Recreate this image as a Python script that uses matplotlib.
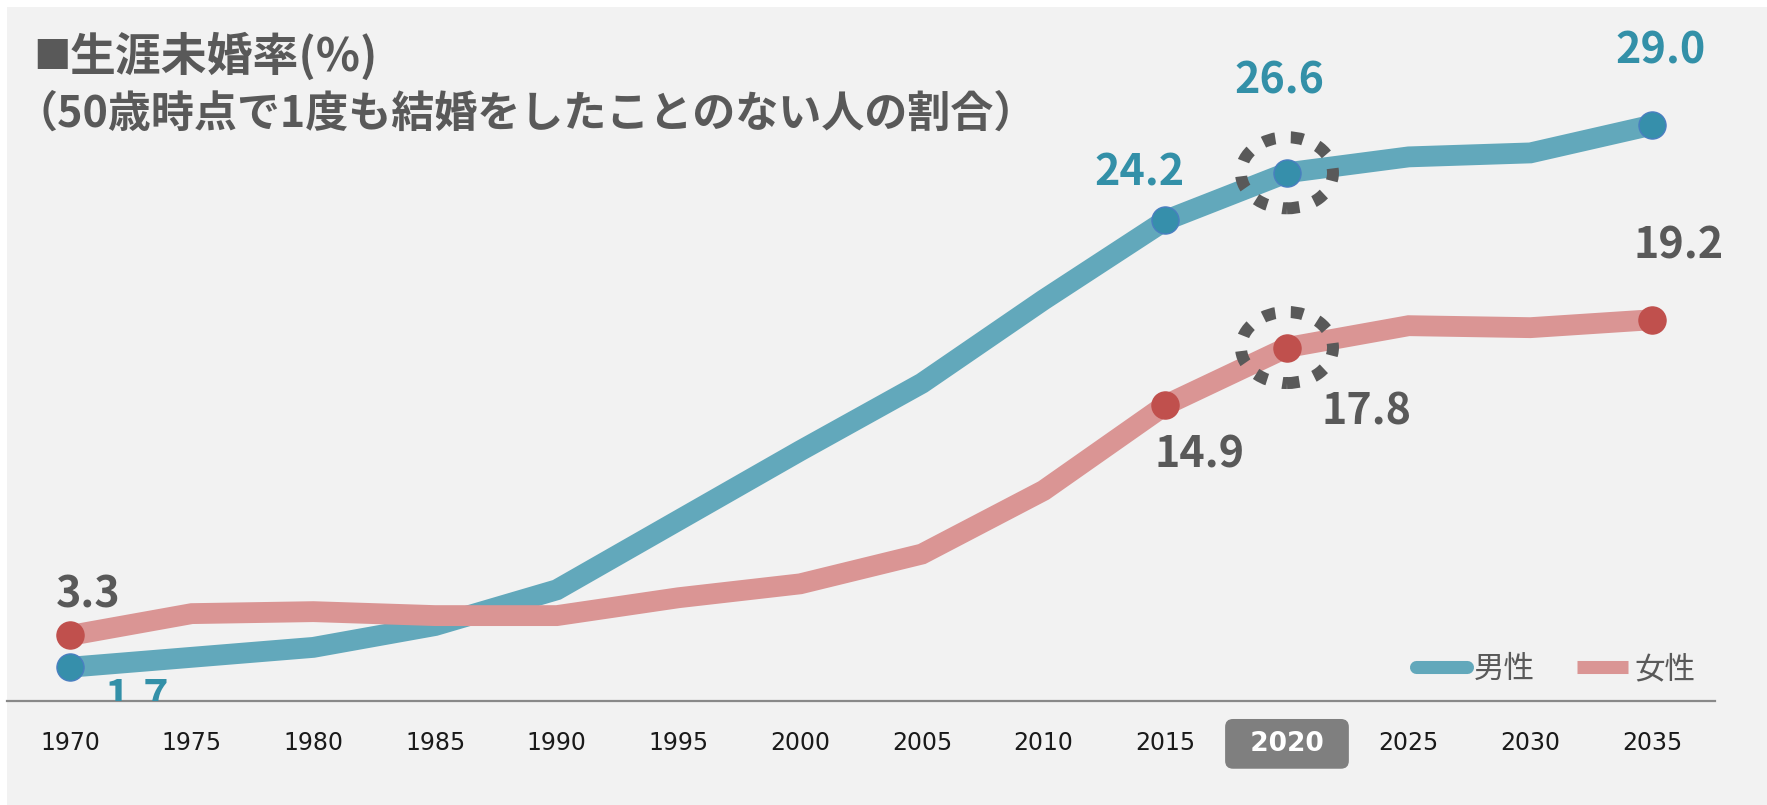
import matplotlib
matplotlib.use("Agg")
import matplotlib.pyplot as plt
from matplotlib.lines import Line2D
from matplotlib.patches import Ellipse, Rectangle

plt.rcParams['font.family'] = ['Noto Sans CJK JP', 'DejaVu Sans']

# data (%)
years = [1970, 1975, 1980, 1985, 1990, 1995, 2000, 2005, 2010, 2015, 2020, 2025, 2030, 2035]
male = [1.7, 2.2, 2.7, 3.8, 5.6, 9.1, 12.6, 16.0, 20.2, 24.2, 26.6, 27.4, 27.6, 29.0]
female = [3.3, 4.4, 4.5, 4.3, 4.3, 5.2, 5.9, 7.4, 10.6, 14.9, 17.8, 18.9, 18.8, 19.2]
marked_years = [1970, 2015, 2020, 2035]
highlight_year = 2020

title_mark = "■"
title1 = "生涯未婚率(%)"
title2 = "（50歳時点で1度も結婚をしたことのない人の割合）"
series_names = ["男性", "女性"]

male_line = '#62a8bb'
male_dot = '#368fab'
female_line = '#da9594'
female_dot = '#c0504d'
teal_text = '#3390a8'
gray_text = '#595959'

W, H = 1767, 805
fig = plt.figure(figsize=(W / 100, H / 100), dpi=100, facecolor='white')
fig.add_artist(Rectangle((7 / W, 0), 1, 798 / H, transform=fig.transFigure,
                         facecolor='#f2f2f2', edgecolor='none', zorder=-10))

ax = fig.add_axes([7 / W, (H - 701) / H, (1715 - 7) / W, 701 / H])
ax.set_facecolor('none')
x = list(range(len(years)))
ax.set_xlim(-0.5177, 13.517)
ax.set_ylim(0, 35.3)

ax.plot(x, male, color=male_line, lw=15, solid_joinstyle='miter', solid_capstyle='butt', zorder=2)
ax.plot(x, female, color=female_line, lw=15, solid_joinstyle='miter', solid_capstyle='butt', zorder=3)

mi = [years.index(y) for y in marked_years]
ax.plot(mi, [male[i] for i in mi], 'o', ms=19.5, color=male_dot, mec='#4a7fc1', mew=1, zorder=6)
ax.plot(mi, [female[i] for i in mi], 'o', ms=19.5, color=female_dot, mec=female_dot, mew=1, zorder=6)

# dashed rings around the current year
hi = years.index(highlight_year)
for v in (male[hi], female[hi]):
    ax.add_patch(Ellipse((hi, v), 0.756, 3.58, fill=False, edgecolor=gray_text,
                         lw=8.6, linestyle=(0, (1.05, 1.3)), zorder=5))

# value labels, offsets in pixels
def label(vals, yr, color, dx, dy, clip=False):
    i = years.index(yr)
    ax.annotate(f"{vals[i]:.1f}", (i, vals[i]), xytext=(dx, dy - 3), textcoords='offset pixels',
                ha='center', va='center', fontsize=31, fontweight='bold', color=color,
                clip_on=clip, zorder=7)

label(female, 1970, gray_text, 18, 44)
label(male, 1970, teal_text, 67, -27, clip=True)
label(male, 2015, teal_text, -26, 51)
label(male, 2020, teal_text, -8, 95)
label(male, 2035, teal_text, 9, 78)
label(female, 2035, gray_text, 27, 77)
label(female, 2020, gray_text, 80, -61)
label(female, 2015, gray_text, 34, -46)

# axis
for s in ('top', 'right', 'left'):
    ax.spines[s].set_visible(False)
ax.spines['bottom'].set_color('#898989')
ax.spines['bottom'].set_linewidth(1.6)
ax.set_yticks([])
tick_labels = [f"\u2002{y}\u2002" if y == highlight_year else str(y) for y in years]
ax.set_xticks(x, tick_labels)
ax.tick_params(axis='x', length=0, pad=21.5)
for t in ax.get_xticklabels():
    t.set_fontfamily('DejaVu Sans')
    t.set_fontsize(17)
    t.set_color('#1a1a1a')
hl = ax.get_xticklabels()[hi]
hl.set_fontsize(19)
hl.set_fontweight('bold')
hl.set_color('white')
hl.set_bbox(dict(boxstyle='round,pad=0.45,rounding_size=0.3', facecolor='#7f7f7f', edgecolor='none'))

# legend
handles = [Line2D([], [], color=male_line, lw=9.4, solid_capstyle='round'),
           Line2D([], [], color=female_line, lw=9.4, solid_capstyle='butt')]
leg = ax.legend(handles, series_names, loc='center left', bbox_to_anchor=(0.8247, 0.045),
                ncol=2, frameon=False, fontsize=22, handlelength=1.67, handletextpad=0.22,
                columnspacing=1.4, borderpad=0, borderaxespad=0)
for t in leg.get_texts():
    t.set_color(gray_text)

# title
fig.text(33 / W, 1 - 68 / H, title_mark, fontsize=27, fontweight='bold', color=gray_text, va='baseline')
fig.text(70 / W, 1 - 71 / H, title1, fontsize=33, fontweight='bold', color=gray_text, va='baseline')
fig.text(14 / W, 1 - 127 / H, title2, fontsize=31, fontweight='bold', color=gray_text, va='baseline')

fig.savefig('out.png', dpi=100, facecolor=fig.get_facecolor())
